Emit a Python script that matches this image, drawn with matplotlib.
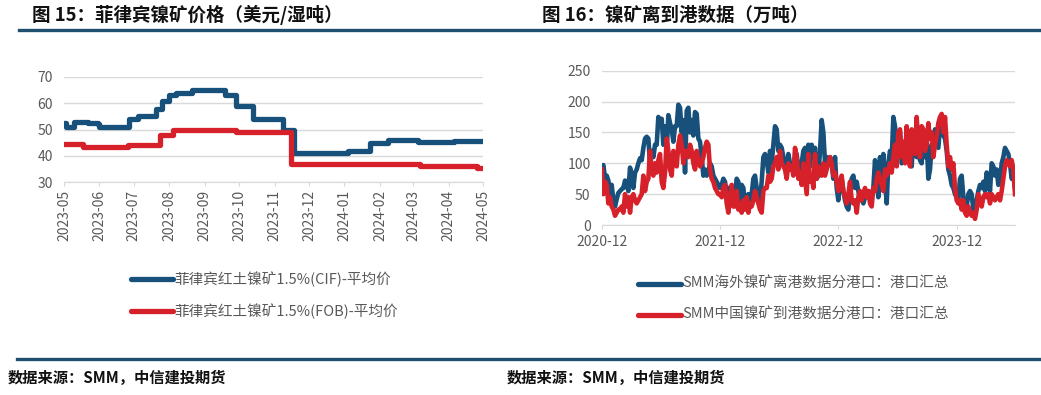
import matplotlib
matplotlib.use("Agg")
import matplotlib.pyplot as plt
import matplotlib.dates as mdates
import pandas as pd
import numpy as np
from matplotlib.lines import Line2D

plt.rcParams['font.family'] = ['Noto Sans CJK SC', 'DejaVu Sans']

# ---------------- data: left chart (step changes) ----------------
cif_dates = ['2023-05-01', '2023-05-03', '2023-05-10', '2023-05-22', '2023-05-31', '2023-06-01',
             '2023-06-27', '2023-07-05', '2023-07-20', '2023-07-26', '2023-08-01', '2023-08-07',
             '2023-08-21', '2023-09-19', '2023-09-28', '2023-10-13', '2023-11-08', '2023-11-18',
             '2024-01-04', '2024-01-23', '2024-02-08', '2024-03-05', '2024-04-06', '2024-05-01']
cif_vals = [52.3, 50.8, 52.9, 52.5, 52.0, 51.0,
            54.0, 55.0, 58.0, 61.0, 63.0, 64.0,
            65.0, 63.0, 59.0, 54.0, 50.0, 41.0,
            42.0, 45.0, 46.0, 45.2, 45.6, 45.6]
fob_dates = ['2023-05-01', '2023-05-18', '2023-06-26', '2023-07-24', '2023-08-04', '2023-09-28',
             '2023-11-15', '2024-03-07', '2024-04-26', '2024-05-01']
fob_vals = [44.4, 43.4, 44.1, 47.8, 50.0, 49.0, 37.0, 36.0, 35.5, 35.5]
left_ticks = ['2023-05', '2023-06', '2023-07', '2023-08', '2023-09', '2023-10', '2023-11',
              '2023-12', '2024-01', '2024-02', '2024-03', '2024-04', '2024-05']
left_yticks = [30, 40, 50, 60, 70]
cif_label = '菲律宾红土镍矿1.5%(CIF)-平均价'
fob_label = '菲律宾红土镍矿1.5%(FOB)-平均价'

# ---------------- data: right chart (weekly-ish) ----------------
right_start = '2020-12-01'
right_end = '2024-05-29'
overseas = [90, 97, 75, 80, 72, 50, 65, 40, 30, 42,
            52, 55, 58, 60, 72, 65, 55, 93, 80, 60,
            85, 90, 100, 108, 105, 125, 140, 143, 140, 100,
            120, 110, 130, 130, 175, 170, 172, 130, 160, 120,
            178, 165, 155, 135, 160, 160, 195, 190, 150, 170,
            85, 185, 190, 150, 170, 145, 183, 180, 140, 135,
            110, 80, 90, 80, 85, 100, 95, 80, 75, 70,
            65, 60, 65, 75, 70, 50, 60, 55, 58, 60,
            50, 75, 70, 35, 65, 60, 30, 45, 50, 30,
            50, 75, 80, 60, 55, 40, 70, 110, 115, 105,
            85, 120, 100, 130, 160, 155, 120, 130, 125, 110,
            95, 90, 115, 100, 95, 90, 110, 115, 90, 85,
            100, 120, 125, 100, 130, 95, 130, 110, 125, 75,
            80, 120, 170, 150, 100, 110, 105, 110, 100, 75,
            110, 60, 40, 70, 75, 55, 40, 30, 25, 50,
            75, 80, 60, 70, 55, 40, 50, 35, 45, 50,
            55, 45, 50, 60, 105, 85, 45, 110, 80, 115,
            75, 35, 100, 120, 105, 175, 160, 125, 145, 150,
            100, 105, 110, 150, 120, 115, 95, 145, 130, 110,
            145, 105, 100, 150, 110, 140, 75, 90, 130, 120,
            155, 140, 125, 160, 170, 145, 140, 120, 90, 80,
            65, 60, 50, 45, 40, 75, 80, 45, 25, 30,
            50, 55, 50, 25, 20, 40, 55, 65, 60, 70,
            55, 85, 75, 55, 100, 95, 80, 90, 65, 70,
            100, 110, 125, 120, 115, 100, 75, 80, 60]
china = [90, 50, 70, 65, 35, 45, 30, 25, 15, 20,
         25, 25, 30, 20, 50, 30, 45, 20, 45, 50,
         40, 35, 40, 45, 50, 80, 55, 70, 75, 120,
         90, 80, 100, 85, 105, 115, 70, 60, 85, 140,
         120, 90, 80, 120, 100, 95, 130, 145, 130, 100,
         120, 120, 110, 130, 120, 100, 90, 120, 105, 95,
         100, 110, 125, 135, 130, 90, 75, 70, 60, 55,
         50, 50, 45, 60, 65, 35, 20, 45, 65, 30,
         30, 55, 25, 35, 20, 40, 25, 45, 20, 35,
         30, 40, 55, 45, 35, 25, 20, 55, 60, 60,
         80, 70, 75, 95, 100, 110, 90, 120, 100, 95,
         90, 75, 100, 90, 95, 80, 125, 110, 75, 85,
         65, 100, 75, 50, 115, 70, 80, 60, 115, 75,
         95, 90, 80, 100, 80, 90, 100, 110, 100, 80,
         85, 70, 55, 70, 80, 55, 45, 35, 50, 70,
         40, 35, 40, 20, 45, 55, 40, 50, 60, 45,
         55, 35, 30, 60, 55, 75, 85, 75, 65, 55,
         90, 80, 90, 100, 85, 110, 130, 95, 150, 155,
         110, 135, 100, 160, 110, 95, 155, 135, 115, 175,
         130, 110, 160, 155, 120, 130, 165, 140, 150, 110,
         130, 145, 165, 175, 180, 150, 175, 130, 95, 110,
         90, 100, 60, 40, 35, 40, 25, 40, 20, 15,
         30, 20, 15, 20, 10, 25, 50, 40, 30, 45,
         50, 45, 50, 35, 50, 45, 40, 45, 50, 40,
         55, 75, 95, 105, 100, 95, 105, 90, 50]
right_ticks = ['2020-12', '2021-12', '2022-12', '2023-12']
right_yticks = [0, 50, 100, 150, 200, 250]
overseas_label = 'SMM海外镍矿离港数据分港口：港口汇总'
china_label = 'SMM中国镍矿到港数据分港口：港口汇总'

title_left = '图 15：菲律宾镍矿价格（美元/湿吨）'
title_right = '图 16：镍矿离到港数据（万吨）'
source = '数据来源：SMM，中信建投期货'

# ---------------- styling ----------------
BLUE = '#17507A'
RED = '#D6202A'
RULE = '#1E4F6E'
GRID = '#D9D9D9'
TXT = '#595959'
W, H = 1041, 395

fig = plt.figure(figsize=(W / 100, H / 100), dpi=100)

def fx(px):
    return px / W

def fy(py):
    return 1 - py / H

# titles and rules
fig.text(fx(32), fy(15), title_left, fontsize=13.3, fontweight='bold', va='center', ha='left', color='#111111')
fig.text(fx(542), fy(15), title_right, fontsize=13.3, fontweight='bold', va='center', ha='left', color='#111111')
fig.add_artist(Line2D([fx(19), fx(1041)], [fy(29.5), fy(29.5)], color=RULE, lw=2.4))
fig.add_artist(Line2D([fx(17), fx(1041)], [fy(359), fy(359)], color=RULE, lw=2.4))
fig.text(fx(8), fy(378), source, fontsize=11, fontweight='bold', fontstyle='italic', va='center', ha='left', color='#111111')
fig.text(fx(507), fy(378), source, fontsize=11, fontweight='bold', fontstyle='italic', va='center', ha='left', color='#111111')

# ---------------- left chart ----------------
axL = fig.add_axes([fx(64), fy(182), fx(483 - 64), (182 - 77) / H])
cd = pd.to_datetime(cif_dates)
fd = pd.to_datetime(fob_dates)
axL.plot(cd, cif_vals, drawstyle='steps-post', color=BLUE, lw=3.8, solid_joinstyle='round')
axL.plot(fd, fob_vals, drawstyle='steps-post', color=RED, lw=3.8, solid_joinstyle='round')
axL.set_ylim(30, 70)
axL.set_yticks(left_yticks)
lt = pd.to_datetime([t + '-01' for t in left_ticks])
axL.set_xlim(lt[0], lt[-1])
axL.set_xticks(lt)
axL.set_xticklabels(left_ticks, rotation=90)
axL.grid(axis='y', color=GRID, lw=1)
axL.set_axisbelow(True)
for s in ['top', 'right', 'left']:
    axL.spines[s].set_visible(False)
axL.spines['bottom'].set_color(GRID)
axL.tick_params(axis='y', length=0, labelsize=10, labelcolor=TXT, pad=8)
axL.tick_params(axis='x', length=3, color=GRID, labelsize=10, labelcolor=TXT, pad=3)

# left legend
for yy, col, lab in [(279, BLUE, cif_label), (311, RED, fob_label)]:
    fig.add_artist(Line2D([fx(131), fx(173)], [fy(yy), fy(yy)], color=col, lw=3.8, solid_capstyle='round'))
    fig.text(fx(174), fy(yy), lab, fontsize=10.5, color=TXT, va='center', ha='left')

# ---------------- right chart ----------------
axR = fig.add_axes([fx(601.7), fy(225), fx(1015 - 601.7), (225 - 70.7) / H])
rd = pd.date_range(right_start, right_end, periods=len(overseas))
axR.plot(rd, overseas, color=BLUE, lw=3.3, solid_joinstyle='round')
axR.plot(rd, china, color=RED, lw=3.3, solid_joinstyle='round')
axR.set_ylim(0, 250)
axR.set_yticks(right_yticks)
rt = pd.to_datetime([t + '-01' for t in right_ticks])
axR.set_xlim(rd[0], rd[-1])
axR.set_xticks(rt)
axR.set_xticklabels(right_ticks)
axR.grid(axis='y', color=GRID, lw=1)
axR.set_axisbelow(True)
for s in ['top', 'right', 'left']:
    axR.spines[s].set_visible(False)
axR.spines['bottom'].set_color(GRID)
axR.tick_params(axis='y', length=0, labelsize=10, labelcolor=TXT, pad=8)
axR.tick_params(axis='x', length=3, color=GRID, labelsize=10, labelcolor=TXT, pad=4)

for yy, col, lab in [(284, BLUE, overseas_label), (315, RED, china_label)]:
    fig.add_artist(Line2D([fx(638), fx(681)], [fy(yy), fy(yy)], color=col, lw=3.8, solid_capstyle='round'))
    fig.text(fx(682), fy(yy), lab, fontsize=10.5, color=TXT, va='center', ha='left')

fig.savefig('out.png', dpi=100)
